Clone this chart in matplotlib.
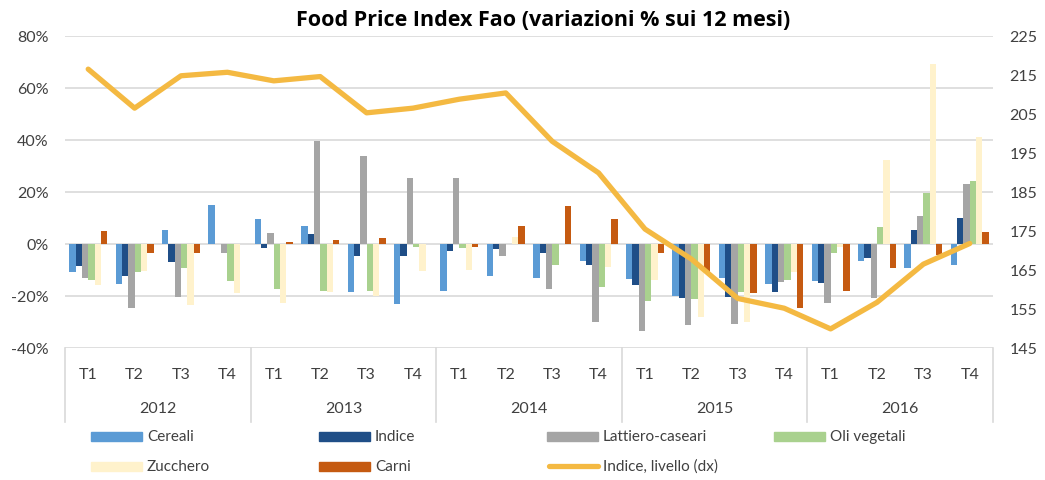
import numpy as np
import matplotlib
matplotlib.use("Agg")
import matplotlib.pyplot as plt
from matplotlib.patches import Rectangle
from matplotlib.lines import Line2D
from matplotlib.ticker import FuncFormatter

plt.rcParams['font.family'] = ['Lato', 'DejaVu Sans']

years = ['2012', '2013', '2014', '2015', '2016']
quarters = ['T1', 'T2', 'T3', 'T4']

cereali = [-10.9, -15.4, 5.3, 15.1, 9.6, 6.8, -18.3, -23.2, -17.9, -12.4, -12.9, -6.4,
           -13.5, -19.9, -12.9, -15.4, -14.4, -6.4, -9.4, -7.9]
indice = [-8.3, -12.2, -7.1, 0.0, -1.5, 3.7, -4.5, -4.5, -2.6, -1.9, -3.5, -8.1,
          -15.9, -20.6, -20.3, -18.3, -15.0, -5.5, 5.3, 10.1]
lattiero = [-13.2, -24.6, -20.3, -3.5, 4.2, 39.6, 33.8, 25.5, 25.4, -4.6, -17.3, -30.1,
            -33.6, -31.0, -30.8, -14.7, -22.7, -20.8, 10.6, 22.9]
oli = [-13.7, -10.9, -9.4, -14.4, -17.3, -17.9, -17.9, -1.0, -1.5, 0.0, -7.9, -16.4,
       -21.8, -21.2, -18.6, -13.7, -3.5, 6.7, 19.6, 24.4]
zucchero = [-15.8, -10.5, -23.3, -18.8, -22.8, -18.3, -19.9, -10.5, -9.9, 2.7, 0.0, -9.0,
            -13.7, -28.2, -30.1, -10.9, -1.0, 32.3, 69.4, 41.3]
carni = [4.9, -3.5, -3.5, 0.0, 0.9, 1.4, 2.3, 0.0, -1.2, 7.1, 14.5, 9.6,
         -3.5, -10.9, -18.8, -24.7, -17.9, -9.4, -4.2, 4.7]
livello = [216.5, 206.5, 214.8, 215.7, 213.5, 214.6, 205.3, 206.5, 208.8, 210.4, 198.0, 189.9,
           175.5, 167.8, 157.7, 155.2, 149.9, 156.7, 166.5, 171.8]

series = [('Cereali', cereali, '#5B9BD5'),
          ('Indice', indice, '#1F4E87'),
          ('Lattiero-caseari', lattiero, '#A5A5A5'),
          ('Oli vegetali', oli, '#A9D18E'),
          ('Zucchero', zucchero, '#FFF2CC'),
          ('Carni', carni, '#C55A11')]
line_color = '#F4B942'
txt_col = '#404040'
fs = 11.5

fig = plt.figure(figsize=(10.45, 4.81), dpi=100)
ax = fig.add_axes([65 / 1045, 1 - 349 / 481, 928 / 1045, 312 / 481])

n = len(years) * len(quarters)
x = np.arange(n)
bw = 0.136
for k, (name, vals, col) in enumerate(series):
    ax.bar(x + (k - 2.5) * bw, vals, bw, color=col, zorder=2)

ax.set_xlim(-0.5, n - 0.5)
ax.set_ylim(-40, 80)
ax.set_yticks(np.arange(-40, 81, 20))
ax.yaxis.set_major_formatter(FuncFormatter(lambda v, p: f'{v:.0f}%'))
ax.grid(axis='y', color='#D9D9D9', linewidth=1.2, zorder=0)
ax.set_axisbelow(True)
for s in ax.spines.values():
    s.set_visible(False)
ax.set_xticks([])
ax.tick_params(axis='y', length=0, pad=12, labelsize=fs, labelcolor=txt_col)

# category axis (quarters + years)
trans = ax.get_xaxis_transform()
for i in range(n):
    ax.text(i, -0.083, quarters[i % 4], transform=trans, ha='center', va='center',
            fontsize=fs, color=txt_col)
for j, yr in enumerate(years):
    ax.text(j * 4 + 1.5, -0.192, yr, transform=trans, ha='center', va='center',
            fontsize=fs, color=txt_col)
for b in range(len(years) + 1):
    ax.plot([b * 4 - 0.5, b * 4 - 0.5], [0, -0.237], transform=trans, color='#D9D9D9',
            linewidth=1.2, clip_on=False)

ax2 = ax.twinx()
ax2.plot(x, livello, color=line_color, linewidth=3.8, solid_capstyle='round', zorder=3)
ax2.set_ylim(145, 225)
ax2.set_yticks(np.arange(145, 226, 10))
for s in ax2.spines.values():
    s.set_visible(False)
ax2.tick_params(axis='y', length=0, pad=12, labelsize=fs, labelcolor=txt_col)

fig.text(543 / 1045, 1 - 20 / 481, 'Food Price Index Fao (variazioni % sui 12 mesi)',
         ha='center', va='center', fontsize=15.5, fontweight='bold', color='black',
         family=['Open Sans', 'DejaVu Sans'])

# legend, laid out like the original (row-wise, equal columns)
W, H = 1045, 481
col_x = [91, 319, 547, 774]
rows_y = [437, 467]
entries = [(0, 0, 'bar', series[0]), (0, 1, 'bar', series[1]), (0, 2, 'bar', series[2]),
           (0, 3, 'bar', series[3]), (1, 0, 'bar', series[4]), (1, 1, 'bar', series[5]),
           (1, 2, 'line', ('Indice, livello (dx)', None, line_color))]
for r, c, kind, (name, _, col) in entries:
    x0 = col_x[c]
    yc = rows_y[r]
    if kind == 'bar':
        fig.add_artist(Rectangle((x0 / W, 1 - (yc + 4.5) / H), 51 / W, 9 / H,
                                 transform=fig.transFigure, color=col))
    else:
        fig.add_artist(Line2D([(x0 + 2) / W, (x0 + 51) / W], [1 - yc / H, 1 - yc / H],
                              transform=fig.transFigure, color=col, linewidth=3.8,
                              solid_capstyle='round'))
    fig.text((x0 + 56) / W, 1 - yc / H, name, ha='left', va='center', fontsize=11,
             color=txt_col)

fig.savefig('out.png', dpi=100)
